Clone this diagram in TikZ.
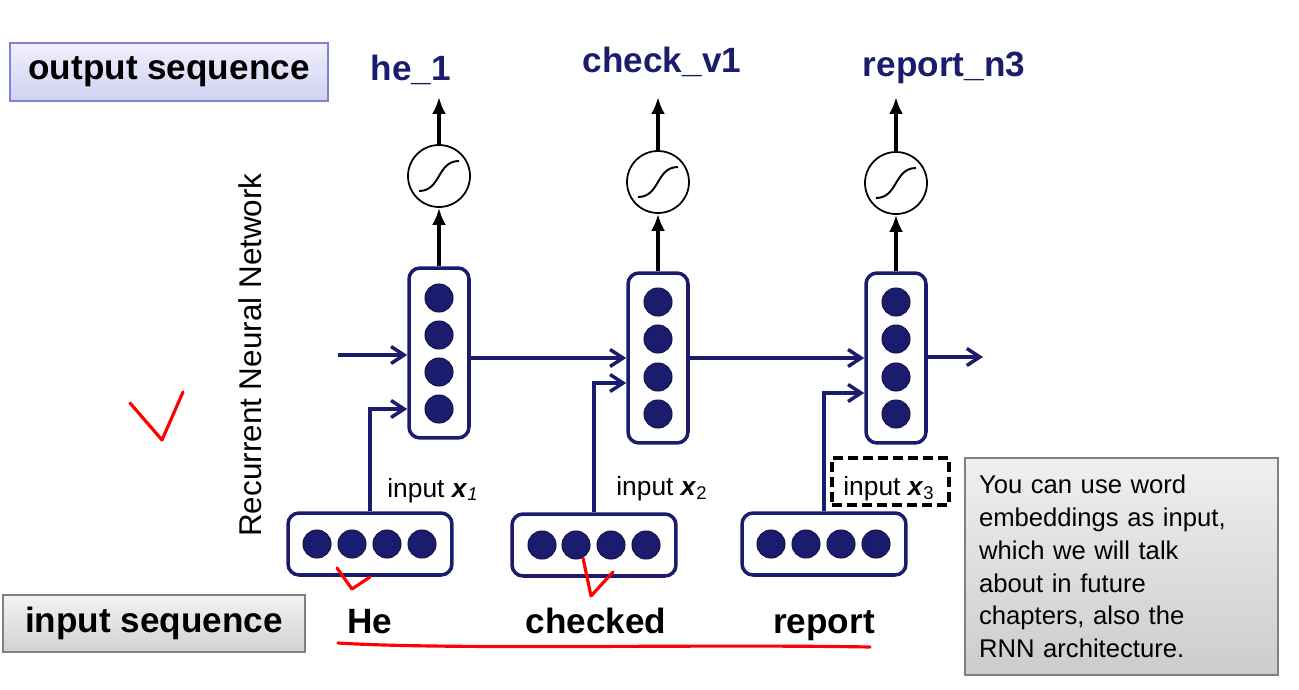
\documentclass[tikz,border=0pt]{standalone}
\usepackage{fontspec}
\setmainfont{Liberation Sans}
\usetikzlibrary{arrows.meta,positioning}
\definecolor{rnnblue}{RGB}{28,28,110}
\definecolor{lavtop}{RGB}{240,240,253}
\definecolor{lavbot}{RGB}{208,208,242}
\definecolor{lavline}{RGB}{130,130,210}

\begin{document}
\begin{tikzpicture}[x=0.02cm,y=-0.02cm]
\tikzstyle{cell}=[draw=rnnblue,line width=2pt,rounded corners=0.22cm,minimum width=1.2cm,minimum height=3.4cm,fill=white]
\tikzstyle{embed}=[draw=rnnblue,line width=2pt,rounded corners=0.22cm,minimum width=3.28cm,minimum height=1.24cm,fill=white]
\tikzstyle{neuron}=[circle,fill=rnnblue,draw=rnnblue!70!black,line width=0.6pt,minimum size=0.56cm,inner sep=0pt]
\tikzstyle{squash}=[circle,draw,line width=1pt,minimum size=1.24cm,inner sep=0pt]
\tikzstyle{recur}=[rnnblue,line width=2pt,-{Straight Barb[length=0.26cm,width=0.34cm]}]
\tikzstyle{outarrow}=[line width=2.4pt,-{Latex[length=0.34cm,width=0.28cm]}]
\tikzstyle{outlabel}=[anchor=base,text=rnnblue,font=\fontsize{20}{24}\selectfont\bfseries]
\tikzstyle{word}=[anchor=base,font=\fontsize{20}{24}\selectfont\bfseries]
\tikzstyle{inlabel}=[anchor=base west,inner sep=0pt,font=\fontsize{15}{18}\selectfont]
\tikzstyle{dashbox}=[draw,line width=2pt,dash pattern=on 0.2cm off 0.1cm,minimum width=2.34cm,minimum height=0.94cm]
\tikzstyle{tagblue}=[draw=lavline,line width=1pt,top color=lavtop,bottom color=lavbot,minimum width=6.36cm,minimum height=1.16cm,font=\fontsize{20}{24}\selectfont\bfseries]
\tikzstyle{taggrey}=[draw=gray,line width=1pt,top color=gray!10,bottom color=gray!35,minimum width=6.04cm,minimum height=1.14cm,font=\fontsize{20}{24}\selectfont\bfseries]
\tikzstyle{note}=[draw=gray,line width=1pt,top color=gray!12,bottom color=gray!40,minimum width=6.26cm,minimum height=4.34cm,text width=5.7cm,inner xsep=0.28cm,align=left,font=\fontsize{14.6}{18.7}\selectfont]
\tikzstyle{redink}=[red,line width=1.8pt,line cap=round,line join=round]
\useasboundingbox (0,0) rectangle (1299,690);

\path (169,72) node[tagblue](outseq){output sequence};
\path (154,623.5) node[taggrey](inseq){input sequence};
\path (250,355) node[rotate=90,font=\fontsize{17.9}{21}\selectfont](rnn){Recurrent Neural Network};

\path (439,353) node[cell](h1){} (658,358) node[cell](h2){} (896,358) node[cell](h3){};
\path (439,298) node[neuron](h1a){} (439,335) node[neuron](h1b){} (439,372) node[neuron](h1c){} (439,409) node[neuron](h1d){};
\path (658,302) node[neuron](h2a){} (658,339) node[neuron](h2b){} (658,377) node[neuron](h2c){} (658,414) node[neuron](h2d){};
\path (896,302) node[neuron](h3a){} (896,339) node[neuron](h3b){} (896,377) node[neuron](h3c){} (896,414) node[neuron](h3d){};

\path (370,544) node[embed](x1){} (594,545) node[embed](x2){} (824,544) node[embed](x3){};
\path (317,544) node[neuron](x1a){} (352,544) node[neuron](x1b){} (387,544) node[neuron](x1c){} (422,544) node[neuron](x1d){};
\path (542,545) node[neuron](x2a){} (576,545) node[neuron](x2b){} (611,545) node[neuron](x2c){} (646,545) node[neuron](x2d){};
\path (771,544) node[neuron](x3a){} (806,544) node[neuron](x3b){} (841,544) node[neuron](x3c){} (876,544) node[neuron](x3d){};

\path (439,176) node[squash](s1){} (658,182) node[squash](s2){} (896,183) node[squash](s3){};
\draw[line width=1.1pt,shift={(s1.center)}] (-20,15) .. controls (2,15) and (-2,-15) .. (20,-15);
\draw[line width=1.1pt,shift={(s2.center)}] (-20,15) .. controls (2,15) and (-2,-15) .. (20,-15);
\draw[line width=1.1pt,shift={(s3.center)}] (-20,15) .. controls (2,15) and (-2,-15) .. (20,-15);

\path (411,80) node[outlabel](y1){he\_1} (662,72) node[outlabel](y2){check\_v1} (944,76) node[outlabel](y3){report\_n3};
\coordinate (t1) at (439,97);
\coordinate (t2) at (658,97);
\coordinate (t3) at (896,97);
\draw[outarrow] (h1) -- (s1);
\draw[outarrow] (h2) -- (s2);
\draw[outarrow] (h3) -- (s3);
\draw[outarrow] (s1) -- (t1);
\draw[outarrow] (s2) -- (t2);
\draw[outarrow] (s3) -- (t3);

\coordinate (r0) at (338,355);
\coordinate (r4) at (983,357);
\draw[recur] (r0) -- (r0 -| h1.west);
\draw[recur] (h1.east |- h2.west) -- (h2.west);
\draw[recur] (h2.east) -- (h3.west);
\draw[recur] (h3.east |- r4) -- (r4);
\draw[recur] (x1.north) |- (h1.west |- 0,409);
\draw[recur] (x2.north) |- (h2.west |- 0,383);
\draw[recur] (x3.north) |- (h3.west |- 0,393);

\path (387,497) node[inlabel](l1){input \textbf{\textit{x}}\textsubscript{\textit{1}}} (616,495) node[inlabel](l2){input \textbf{\textit{x}}\textsubscript{2}} (843,495) node[inlabel](l3){input \textbf{\textit{x}}\textsubscript{3}};
\path (890.5,481.5) node[dashbox](f3){};

\path (370,633) node[word](w1){He} (596,633) node[word](w2){checked} (824,633) node[word](w3){report};

\path (1121.5,566.5) node[note](info){You can use word\\embeddings as input,\\which we will talk\\about in future\\chapters, also the\\RNN architecture.};

\draw[redink] (130,403) -- (162,440) -- (183,392);
\draw[redink] (337,568) -- (352,589) -- (370,577);
\draw[redink] (583,558) -- (591,596) -- (613,572);
\draw[redink] (338,643) .. controls (450,650) and (700,644) .. (870,647);
\end{tikzpicture}
\end{document}
